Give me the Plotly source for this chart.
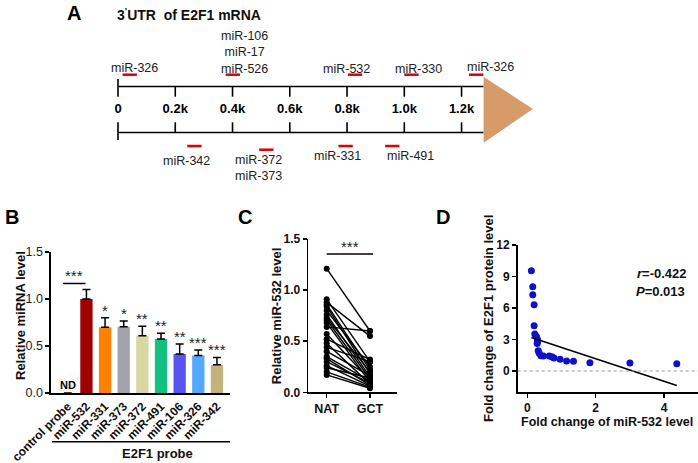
import plotly.graph_objects as go

W, H = 698, 463
FONT = "Liberation Sans, Arial, sans-serif"

# ---------------- Panel A data (positions along 3'UTR, in kb) ----------------
A_TICK_K = [0, 0.2, 0.4, 0.6, 0.8, 1.0, 1.2]
A_TICK_LABELS = ["0", "0.2k", "0.4k", "0.6k", "0.8k", "1.0k", "1.2k"]
A_UTR_END_K = 1.277
A_ARROW_TIP_K = 1.449
A_UP_SITE_START = [0.016, 0.376, 0.803, 1.0, 1.226]
A_UP_LABELS = ["miR-326", "miR-106<br>miR-17<br>miR-526", "miR-532", "miR-330", "miR-326"]
A_UP_LABEL_K = [0.056, 0.443, 0.798, 1.048, 1.30]
A_LOW_SITE_START = [0.242, 0.493, 0.770, 0.933]
A_LOW_LABELS = ["miR-342", "miR-372<br>miR-373", "miR-331", "miR-491"]
A_LOW_LABEL_K = [0.240, 0.490, 0.766, 1.02]
A_SITE_LEN = 0.05

# ---------------- Panel B data ----------------
B_CATS = ["control probe", "miR-532", "miR-331", "miR-373", "miR-372",
          "miR-491", "miR-106", "miR-326", "miR-342"]
B_MEAN = [0, 1.00, 0.70, 0.705, 0.61, 0.575, 0.415, 0.40, 0.30]
B_ERR = [0, 0.10, 0.10, 0.06, 0.10, 0.06, 0.105, 0.057, 0.078]
B_SIG = ["", "", "*", "*", "**", "**", "**", "***", "***"]
B_COLORS = ["#ffffff", "#a00000", "#ff7f00", "#a3a3ab", "#d8d8a2",
            "#12c080", "#5555f0", "#55a8ff", "#c3b27c"]

# ---------------- Panel C data ----------------
C_CATS = ["NAT", "GCT"]
C_NAT = [1.21, 0.91, 0.88, 0.86, 0.84, 0.80, 0.76, 0.73, 0.71, 0.68, 0.64,
         0.57, 0.52, 0.48, 0.44, 0.40, 0.35, 0.33, 0.30, 0.26, 0.24, 0.20, 0.17]
C_GCT = [0.60, 0.30, 0.55, 0.22, 0.18, 0.25, 0.15, 0.20, 0.13, 0.10, 0.60,
         0.12, 0.32, 0.08, 0.30, 0.16, 0.11, 0.07, 0.09, 0.06, 0.14, 0.05, 0.04]

# ---------------- Panel D data ----------------
D_X = [0.12, 0.16, 0.16, 0.20, 0.20, 0.22, 0.27, 0.30, 0.29, 0.30, 0.32, 0.35,
       0.40, 0.47, 0.64, 0.72, 0.78, 0.96, 1.15, 1.35, 1.83, 3.00, 4.37]
D_Y = [9.55, 8.03, 7.27, 6.30, 4.31, 3.52, 3.27, 3.00, 2.63, 2.80, 1.93, 1.68,
       1.46, 1.43, 1.43, 1.36, 1.24, 1.11, 0.95, 0.92, 0.79, 0.76, 0.70]
D_FIT_SLOPE = -1.074
D_FIT_INTERCEPT = 3.31
D_R = "-0.422"
D_P = "0.013"


def fx(p):
    return p / W


def fy(p):
    return 1 - p / H


fig = go.Figure()
ann = []
shapes = []


def text_ann(x, y, text, size=13, color="#111", xref="paper", yref="paper",
             xanchor="center", yanchor="middle", **kw):
    if xref == "paper":
        x = fx(x)
    if yref == "paper":
        y = fy(y)
    d = dict(x=x, y=y, xref=xref, yref=yref, text=text, showarrow=False,
             xanchor=xanchor, yanchor=yanchor,
             font=dict(family=FONT, size=size, color=color))
    d.update(kw)
    ann.append(d)


# ======================= Panel A =======================
A_PX0, A_PXK = 118.0, 286.3   # pixel of 0 and pixels per kb
a_xrange = [(0 - A_PX0) / A_PXK, (W - A_PX0) / A_PXK]
UP_Y, LOW_Y = 86.5, 132.5


def aline(xs, ys, color="black", width=1.6):
    fig.add_trace(go.Scatter(x=xs, y=ys, mode="lines", xaxis="x4", yaxis="y4",
                             line=dict(color=color, width=width),
                             hoverinfo="skip", showlegend=False))


aline([0, A_UTR_END_K], [UP_Y, UP_Y])
aline([0, A_UTR_END_K], [LOW_Y, LOW_Y])
for k in A_TICK_K:
    if k == 0:
        aline([k, k], [79, 96.7])
        aline([k, k], [122.3, 140])
    else:
        aline([k, k], [UP_Y, 96.7])
        aline([k, k], [122.3, LOW_Y])
fig.add_trace(go.Scatter(x=A_TICK_K, y=[110] * len(A_TICK_K), mode="text",
                         text=A_TICK_LABELS, xaxis="x4", yaxis="y4",
                         textfont=dict(family=FONT, size=13, color="black",
                                       weight="bold"),
                         hoverinfo="skip", showlegend=False))
# arrow head
fig.add_trace(go.Scatter(x=[A_UTR_END_K, A_UTR_END_K, A_ARROW_TIP_K, A_UTR_END_K],
                         y=[76.7, 142.7, 109, 76.7], mode="lines", fill="toself",
                         fillcolor="#d69b68", line=dict(width=0),
                         xaxis="x4", yaxis="y4", hoverinfo="skip", showlegend=False))
for s in A_UP_SITE_START:
    aline([s, s + A_SITE_LEN], [74.7, 74.7], color="#e00000", width=2.5)
low_site_y = [146, 149.7, 146, 146]
for s, yy in zip(A_LOW_SITE_START, low_site_y):
    aline([s, s + A_SITE_LEN], [yy, yy], color="#e00000", width=2.5)

up_label_y = [68, 52.3, 68.5, 68.5, 67]
for k, t, yy in zip(A_UP_LABEL_K, A_UP_LABELS, up_label_y):
    text_ann(k, yy, t, size=12.5, color="#222", xref="x4", yref="y4")
low_label_y = [161, 168, 156, 156]
for k, t, yy in zip(A_LOW_LABEL_K, A_LOW_LABELS, low_label_y):
    text_ann(k, yy, t, size=12.5, color="#222", xref="x4", yref="y4")
text_ann(115, 14, "<b>3<sup>'</sup>UTR  of E2F1 mRNA</b>", size=14, xanchor="left")

# panel letters
for letter, (px, py) in {"A": (74, 13), "B": (12, 217), "C": (245, 217),
                         "D": (443, 217)}.items():
    text_ann(px, py, f"<b>{letter}</b>", size=20, color="black")

# ======================= Panel B =======================
bx = list(range(len(B_CATS)))
fig.add_trace(go.Bar(x=bx, y=B_MEAN, marker=dict(color=B_COLORS, line=dict(width=0)),
                     width=0.66, xaxis="x", yaxis="y", showlegend=False,
                     error_y=dict(type="data", symmetric=False, array=B_ERR,
                                  arrayminus=[0] * len(B_ERR), color="black",
                                  thickness=1.5, width=4)))
for i, s in enumerate(B_SIG):
    if s:
        text_ann(bx[i], B_MEAN[i] + B_ERR[i], s, size=15, color="#222",
                 xref="x", yref="y", yanchor="bottom", yshift=-3)
# control vs miR-532
fig.add_trace(go.Scatter(x=[-0.25, 0.95], y=[1.165, 1.165], mode="lines",
                         line=dict(color="black", width=1.5), xaxis="x", yaxis="y",
                         hoverinfo="skip", showlegend=False))
text_ann(0.35, 1.165, "***", size=15, color="#222", xref="x", yref="y",
         yanchor="bottom", yshift=-3)
text_ann(0, 0, "<b>ND</b>", size=11, color="black", xref="x", yref="y",
         yanchor="bottom")
text_ann(20, 316, "<b>Relative miRNA level</b>", size=13, textangle=-90)
shapes.append(dict(type="line", xref="paper", yref="paper", x0=fx(52), x1=fx(230),
                   y0=fy(441.7), y1=fy(441.7), line=dict(color="black", width=1.5)))
text_ann(157, 453.5, "<b>E2F1 probe</b>", size=13)

# ======================= Panel C =======================
cx, cy = [], []
for a, b in zip(C_NAT, C_GCT):
    cx += [0, 1, None]
    cy += [a, b, None]
fig.add_trace(go.Scatter(x=cx, y=cy, mode="lines+markers", xaxis="x2", yaxis="y2",
                         line=dict(color="black", width=1.4),
                         marker=dict(color="black", size=6),
                         hoverinfo="skip", showlegend=False))
fig.add_trace(go.Scatter(x=[0, 1.07], y=[1.353, 1.353], mode="lines",
                         line=dict(color="black", width=1.3), xaxis="x2", yaxis="y2",
                         hoverinfo="skip", showlegend=False))
text_ann(0.53, 1.353, "***", size=15, color="#222", xref="x2", yref="y2",
         yanchor="bottom", yshift=-3)
text_ann(276.7, 315.5, "<b>Relative miR-532 level</b>", size=13, textangle=-90)

# ======================= Panel D =======================
fig.add_trace(go.Scatter(x=D_X, y=D_Y, mode="markers", xaxis="x3", yaxis="y3",
                         marker=dict(color="#1010c8", size=7),
                         hoverinfo="skip", showlegend=False))
fx0, fx1 = min(D_X), max(D_X)
fig.add_trace(go.Scatter(x=[fx0, fx1],
                         y=[D_FIT_INTERCEPT + D_FIT_SLOPE * fx0,
                            D_FIT_INTERCEPT + D_FIT_SLOPE * fx1],
                         mode="lines", line=dict(color="black", width=1.6),
                         xaxis="x3", yaxis="y3", hoverinfo="skip", showlegend=False))
shapes.append(dict(type="line", xref="x3 domain", yref="y3", x0=0, x1=1, y0=0, y1=0,
                   line=dict(color="#999", width=1.2, dash="dot")))
text_ann(635, 273, f"<b><i>r</i>={D_R}</b>", size=13, xanchor="left")
text_ann(634, 291, f"<b><i>P</i>={D_P}</b>", size=13, xanchor="left")
text_ann(488.5, 318.5, "<b>Fold change of E2F1 protein level</b>", size=13,
         textangle=-90)
text_ann(607, 422, "<b>Fold change of miR-532 level</b>", size=12.5)

axis_common = dict(showline=True, linecolor="black", linewidth=1.6, showgrid=False,
                   zeroline=False, ticks="outside", tickwidth=1.5, ticklen=4,
                   tickcolor="black", automargin=False)

fig.update_layout(
    width=W, height=H, autosize=False,
    margin=dict(l=0, r=0, t=0, b=0, pad=0),
    paper_bgcolor="white", plot_bgcolor="rgba(0,0,0,0)",
    font=dict(family=FONT, color="black"),
    xaxis=dict(**{**axis_common, "ticks": ""}, domain=[fx(51), fx(230)], anchor="y",
               range=[-0.9, 8.7], tickmode="array", tickvals=bx, ticktext=B_CATS,
               tickangle=-45,
               tickfont=dict(family=FONT, size=12, color="#111", weight="bold")),
    yaxis=dict(**axis_common, domain=[fy(393), fy(252)], anchor="x",
               range=[0, 1.5], tickvals=[0, 0.5, 1.0, 1.5], tickformat=".1f",
               tickfont=dict(family=FONT, size=12.5, color="#222")),
    xaxis2=dict(**axis_common, domain=[fx(308.3), fx(396.7)], anchor="y2",
                range=[-0.425, 1.617], tickmode="array", tickvals=[0, 1],
                ticktext=C_CATS,
                tickfont=dict(family=FONT, size=12.5, color="#111", weight="bold")),
    yaxis2=dict(**axis_common, domain=[fy(392.3), fy(239)], anchor="x2",
                range=[0, 1.5], tickvals=[0, 0.5, 1.0, 1.5], tickformat=".1f",
                tickfont=dict(family=FONT, size=12, color="#111", weight="bold")),
    xaxis3=dict(**axis_common, domain=[fx(517.7), 1.0], anchor="y3",
                range=[-0.28, 4.99], tickvals=[0, 2, 4],
                tickfont=dict(family=FONT, size=12, color="#111", weight="bold")),
    yaxis3=dict(**axis_common, domain=[fy(392), fy(245)], anchor="x3",
                range=[-2, 12], tickvals=[0, 3, 6, 9, 12],
                tickfont=dict(family=FONT, size=12, color="#111", weight="bold")),
    xaxis4=dict(domain=[0, 1], range=a_xrange, visible=False, anchor="y4",
                fixedrange=True),
    yaxis4=dict(domain=[0, 1], range=[H, 0], visible=False, anchor="x4",
                fixedrange=True),
    annotations=ann,
    shapes=shapes,
)

fig.write_html("out.html",
               config={"displayModeBar": False, "staticPlot": True},
               post_script="document.body.style.margin='0';"
                           "document.body.style.overflow='hidden';")
